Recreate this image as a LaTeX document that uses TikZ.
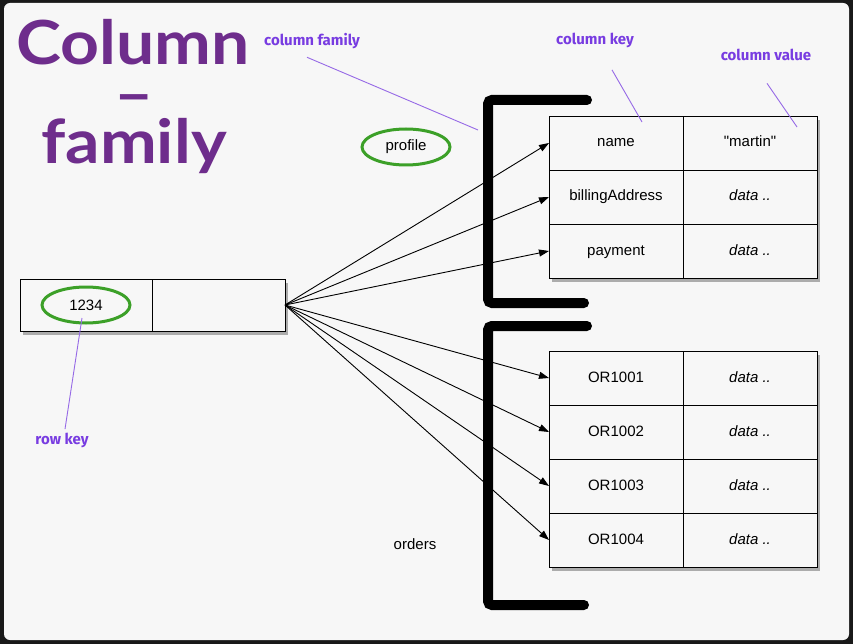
\documentclass[tikz,border=0pt]{standalone}
\usepackage{fontspec}
\setmainfont{Liberation Sans}[Ligatures=TeXOff]
\newfontfamily\titlefont{Lato}
\newfontfamily\notefont{Fira Sans}
\usetikzlibrary{positioning, shapes.geometric, arrows.meta, shadows}

\definecolor{titlepurple}{RGB}{110,45,140}
\definecolor{notepurple}{RGB}{120,60,225}
\definecolor{pointerpurple}{RGB}{150,105,230}
\definecolor{ringgreen}{RGB}{60,160,40}
\definecolor{slidebg}{RGB}{247,247,247}
\definecolor{slideframe}{RGB}{25,25,25}

\begin{document}
\begin{tikzpicture}[
    x=1pt, y=-1pt,
    cell/.style={rectangle, draw, fill=slidebg, outer sep=0pt, line width=0.9pt,
        minimum width=134pt, minimum height=54pt, text height=11pt, text depth=3pt,
        font=\fontsize{15}{18}\selectfont,
        drop shadow={shadow xshift=3pt, shadow yshift=-4pt, opacity=0.3, fill=black}},
    keycell/.style={cell},
    valcell/.style={cell, font=\fontsize{15}{18}\selectfont\itshape},
    rowcell/.style={cell, minimum width=132pt, minimum height=52pt},
    ring/.style={ellipse, draw=ringgreen, line width=3pt, inner sep=0pt,
        minimum width=88pt, minimum height=36pt, font=\fontsize{15}{18}\selectfont},
    title/.style={text=titlepurple, inner sep=0pt, anchor=base,
        transform shape, xscale=1.06, yscale=0.95,
        font=\titlefont\bfseries\fontsize{64}{64}\selectfont},
    note/.style={text=notepurple, font=\notefont\bfseries\fontsize{15}{17}\selectfont},
    pointer/.style={draw=pointerpurple, line width=0.9pt},
    bracket/.style={line width=10pt, line cap=round, rounded corners=4pt},
    link/.style={-{Triangle[length=10pt, width=7pt]}, line width=0.9pt}
]

    % --- SLIDE ---
    \useasboundingbox (0,0) rectangle (853,644);
    \fill[slideframe] (0,0) rectangle (853,644);
    \fill[slidebg, rounded corners=6pt] (4,3) rectangle (849,640);

    % --- TITLE ---
    \node (titletop) [title, text height=46pt, text depth=0pt] at (133,65) {Column};
    \node (titledash) [title, text height=22pt, text depth=-16pt] at (134,116) {–};
    \node (titlebot) [title, text height=50pt, text depth=12pt] at (134,164) {family};

    % --- ROW ---
    \node (rowkey) [rowcell] at (86,305) {};
    \node (rowval) [rowcell, minimum width=133pt, right=0pt of rowkey] {};
    \node (rowring) [ring] at (rowkey) {1234};

    % --- PROFILE COLUMNS ---
    \node (name) [keycell] at (616,143) {name};
    \node (nameval) [valcell, font=\fontsize{15}{18}\selectfont, right=0pt of name] {"martin"};
    \node (billing) [keycell, below=0pt of name] {billingAddress};
    \node (billingval) [valcell, right=0pt of billing] {data ..};
    \node (payment) [keycell, below=0pt of billing] {payment};
    \node (paymentval) [valcell, right=0pt of payment] {data ..};

    % --- ORDERS COLUMNS ---
    \node (or1) [keycell] at (616,378) {OR1001};
    \node (or1val) [valcell, right=0pt of or1] {data ..};
    \node (or2) [keycell, below=0pt of or1] {OR1002};
    \node (or2val) [valcell, right=0pt of or2] {data ..};
    \node (or3) [keycell, below=0pt of or2] {OR1003};
    \node (or3val) [valcell, right=0pt of or3] {data ..};
    \node (or4) [keycell, below=0pt of or3] {OR1004};
    \node (or4val) [valcell, right=0pt of or4] {data ..};

    % --- FAMILY NAMES ---
    \node (profile) [ring] at (406,147) {profile};
    \node (orders) [font=\fontsize{15}{18}\selectfont] at (415,544) {orders};

    % --- BRACKETS ---
    \draw[bracket] (587,100) -- (488,100) -- (488,303) -- (584,303);
    \draw[bracket] (587,326) -- (488,326) -- (488,605) -- (584,605);

    % --- ROW TO COLUMNS ---
    \draw[link] (rowval.east) -- (name.west);
    \draw[link] (rowval.east) -- (billing.west);
    \draw[link] (rowval.east) -- (payment.west);
    \draw[link] (rowval.east) -- (or1.west);
    \draw[link] (rowval.east) -- (or2.west);
    \draw[link] (rowval.east) -- (or3.west);
    \draw[link] (rowval.east) -- (or4.west);

    % --- ANNOTATIONS ---
    \node (famnote) [note] at (312,41) {column family};
    \node (keynote) [note] at (595,40) {column key};
    \node (valnote) [note] at (766,55) {column value};
    \node (rownote) [note] at (62,440) {row key};

    \coordinate (famtip) at (478,130);
    \coordinate (keytip) at (642,122);
    \coordinate (valtip) at (797,127);
    \coordinate (rowtip) at (82,318);

    \draw[pointer] ([shift={(-5,5)}]famnote.south) -- (famtip);
    \draw[pointer] ([shift={(17,19)}]keynote.south) -- (keytip);
    \draw[pointer] ([shift={(1,19)}]valnote.south) -- (valtip);
    \draw[pointer] ([shift={(3,0)}]rownote.north) -- (rowtip);

\end{tikzpicture}
\end{document}
